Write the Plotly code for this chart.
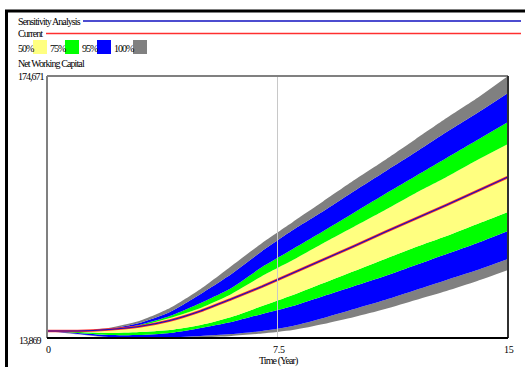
import plotly.graph_objects as go

# ---- data ----
years = list(range(16))
band_max = [18170, 18170, 20010, 24300, 32280, 43940, 58060, 72180, 85070, 97950,
            110840, 123120, 136010, 148900, 161170, 174671]
band_p975 = [18170, 18170, 19390, 23080, 29830, 40880, 53150, 67270, 80160, 91820,
             104090, 116060, 128030, 140300, 151960, 164240]
band_p875 = [18170, 18170, 18780, 21850, 27370, 35350, 44560, 57450, 68490, 79540,
             90890, 102250, 113300, 124350, 135390, 146440]
band_p75 = [18170, 18170, 18780, 21240, 26150, 32280, 40880, 51920, 61740, 72170,
            82300, 92430, 102860, 112680, 123120, 132940]
sens_mean = [18170, 18170, 19090, 20930, 24610, 30440, 37810, 45480, 53760, 62050,
             70340, 78930, 87210, 95500, 104090, 112680]
current_run = [18170, 18170, 19090, 20930, 24610, 30440, 37810, 45480, 53760, 62050,
               70340, 78930, 87210, 95500, 104090, 112680]
band_p25 = [18170, 17550, 16940, 17550, 18780, 21850, 26760, 33510, 40260, 47630,
            54990, 62360, 69720, 76470, 83840, 91200]
band_p125 = [18170, 16940, 15710, 15710, 16940, 20010, 23690, 28600, 33510, 39650,
             45790, 51920, 58670, 65430, 72180, 79540]
band_p025 = [18170, 16330, 14480, 14200, 14300, 15100, 16330, 18170, 21240, 26150,
             31670, 37190, 43330, 49470, 55600, 62360]
band_min = [18170, 16100, 14180, 13869, 13950, 14180, 15100, 16630, 18780, 22460,
            26760, 31670, 37190, 42720, 48850, 55600]

y_min, y_max = 13869, 174671
x_ticks = [0, 7.5, 15]
x_tick_text = ["0", "7.5", "15"]
y_tick_text = ["13,869", "174,671"]
band_labels = ["50%", "75%", "95%", "100%"]

C_YEL, C_GRN, C_BLU, C_GRY = "#ffff80", "#00ff00", "#0000ff", "#808080"
FONT = "Liberation Serif"

fig = go.Figure()

layers = [
    (band_min, None),
    (band_p025, C_GRY),
    (band_p125, C_BLU),
    (band_p25, C_GRN),
    (band_p75, C_YEL),
    (band_p875, C_GRN),
    (band_p975, C_BLU),
    (band_max, C_GRY),
]
for vals, col in layers:
    fig.add_trace(go.Scatter(
        x=years, y=vals, mode="lines",
        line=dict(width=0, shape="spline", smoothing=0.6),
        fill=None if col is None else "tonexty",
        fillcolor=col, hoverinfo="skip", showlegend=False))

fig.add_trace(go.Scatter(x=years, y=current_run, mode="lines",
                         line=dict(color="#ff3030", width=2.6, shape="spline", smoothing=0.6),
                         showlegend=False))
fig.add_trace(go.Scatter(x=years, y=sens_mean, mode="lines",
                         line=dict(color="#1010c0", width=1.1, shape="spline", smoothing=0.6),
                         showlegend=False))

# geometry helpers: plot area is x 47..508, y 76..338 (pixels)
L, R, T, B = 47, 508, 76, 338
def px(x):
    return (x - L) / (R - L)
def py(y):
    return (B - y) / (B - T)

shapes = [
    # outer frame
    dict(type="line", xref="paper", yref="paper", x0=px(6.5), x1=px(6.5), y0=py(10), y1=py(370),
         line=dict(color="black", width=3)),
    dict(type="line", xref="paper", yref="paper", x0=px(5), x1=px(530), y0=py(11), y1=py(11),
         line=dict(color="black", width=3)),
    # legend lines
    dict(type="line", xref="paper", yref="paper", x0=px(83), x1=px(521), y0=py(21), y1=py(21),
         line=dict(color="#1010c0", width=1.5)),
    dict(type="line", xref="paper", yref="paper", x0=px(46), x1=px(521), y0=py(33.5), y1=py(33.5),
         line=dict(color="#ff3030", width=1.5)),
    # 7.5 vertical line
    dict(type="line", xref="x", yref="paper", x0=7.5, x1=7.5, y0=0, y1=1,
         line=dict(color="#c8c8c8", width=1)),
    # plot frame
    dict(type="line", xref="paper", yref="paper", x0=0, x1=0, y0=0, y1=1,
         line=dict(color="#808080", width=2)),
    dict(type="line", xref="paper", yref="paper", x0=0, x1=1, y0=1, y1=1,
         line=dict(color="#808080", width=2)),
    dict(type="line", xref="paper", yref="paper", x0=1, x1=1, y0=0, y1=1,
         line=dict(color="#303030", width=2)),
    dict(type="line", xref="paper", yref="paper", x0=0, x1=1, y0=0, y1=0,
         line=dict(color="black", width=2)),
]
# legend swatches
for (x0, x1), col in zip([(33, 47), (65, 79), (97, 111), (133, 147)], [C_YEL, C_GRN, C_BLU, C_GRY]):
    shapes.append(dict(type="rect", xref="paper", yref="paper", x0=px(x0), x1=px(x1),
                       y0=py(54), y1=py(40), fillcolor=col, line=dict(width=0)))

def txt(s, x, y, xanchor="left", size=10, sp=-0.9):
    return dict(text='<span style="letter-spacing:%spx">' % sp + s + "</span>",
                xref="paper", yref="paper", x=px(x), y=py(y), xanchor=xanchor, yanchor="middle",
                showarrow=False, font=dict(family=FONT, size=size, color="black"))

annotations = [
    txt("Sensitivity Analysis", 16, 21),
    txt("Current", 16, 33.5),
    txt("Net Working Capital", 16, 64),
    txt(y_tick_text[1], 16, 77, sp=-1.0),
    txt(y_tick_text[0], 44, 340, xanchor="right", sp=-1.0),
    txt("Time (Year)", 278, 361, xanchor="center"),
]
for xp, lab in zip([16, 48, 80, 112], band_labels):
    annotations.append(txt(lab, xp, 48, sp=-1.0))
for tv, tt in zip(x_ticks, x_tick_text):
    annotations.append(txt(tt, L + (R - L) * tv / 15 + 1, 349, xanchor="center", sp=-0.3))

fig.update_layout(
    width=525, height=367,
    margin=dict(l=L, r=525 - R, t=T, b=367 - B),
    paper_bgcolor="white", plot_bgcolor="white",
    xaxis=dict(range=[0, 15], showgrid=False, zeroline=False, showline=False,
               showticklabels=False, ticks=""),
    yaxis=dict(range=[y_min, y_max], showgrid=False, zeroline=False, showline=False,
               showticklabels=False, ticks=""),
    shapes=shapes, annotations=annotations, showlegend=False,
)

fig.write_html("out.html", config={"displayModeBar": False},
               post_script="document.body.style.margin='0';document.body.style.overflow='hidden';")
